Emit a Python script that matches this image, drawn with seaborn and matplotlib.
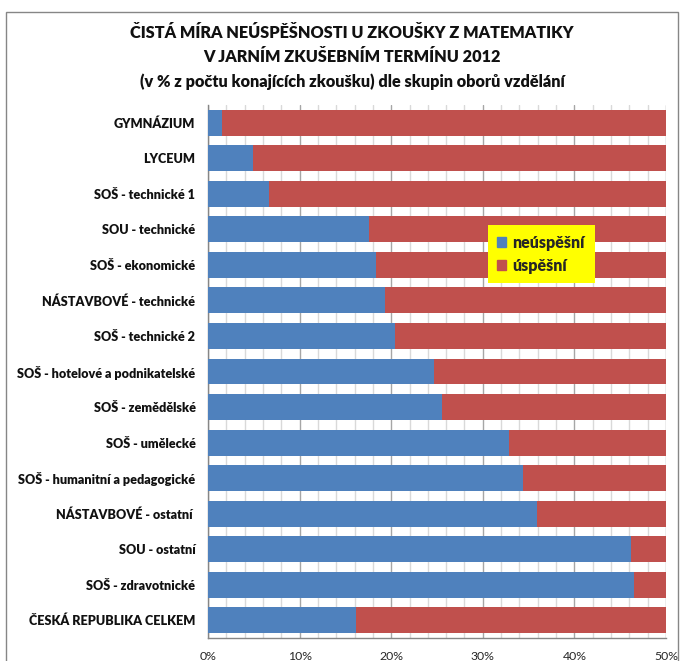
import pandas as pd
import seaborn as sns
import matplotlib.pyplot as plt
from matplotlib.patches import Patch, Rectangle
from matplotlib.ticker import MultipleLocator, FuncFormatter

obory = [
    "GYMNÁZIUM",
    "LYCEUM",
    "SOŠ - technické 1",
    "SOU - technické",
    "SOŠ - ekonomické",
    "NÁSTAVBOVÉ - technické",
    "SOŠ - technické 2",
    "SOŠ - hotelové a podnikatelské",
    "SOŠ - zemědělské",
    "SOŠ - umělecké",
    "SOŠ - humanitní a pedagogické",
    "NÁSTAVBOVÉ - ostatní ",
    "SOU - ostatní",
    "SOŠ - zdravotnické",
    "ČESKÁ REPUBLIKA CELKEM",
]
neuspesni = [1.5, 4.9, 6.7, 17.6, 18.3, 19.3, 20.4, 24.7, 25.5, 32.9, 34.4, 35.9, 46.2, 46.5, 16.2]
uspesni = [100 - v for v in neuspesni]

df = pd.DataFrame({"obor": obory, "neuspesni": neuspesni, "uspesni": uspesni})
df["celkem"] = df["neuspesni"] + df["uspesni"]

BLUE = "#4F81BD"
RED = "#C0504D"

sns.set_style("white")
plt.rcParams["font.family"] = ["Lato", "DejaVu Sans"]

fig = plt.figure(figsize=(6.81, 6.61), dpi=100)
ax = fig.add_axes([208 / 681, 1 - 638 / 661, 458 / 681, 533 / 661])

# stacked bars: full bar in red, failing share in blue on top
sns.barplot(data=df, y="obor", x="celkem", color=RED, orient="h", width=0.73,
            saturation=1, ax=ax, zorder=2)
sns.barplot(data=df, y="obor", x="neuspesni", color=BLUE, orient="h", width=0.73,
            saturation=1, ax=ax, zorder=3)
for p in ax.patches:
    p.set_linewidth(0)

ax.set_xlim(0, 50)
ax.set_ylim(len(obory) - 0.5, -0.5)
ax.set_xlabel("")
ax.set_ylabel("")

ax.xaxis.set_major_locator(MultipleLocator(10))
ax.xaxis.set_minor_locator(MultipleLocator(2))
ax.xaxis.set_major_formatter(FuncFormatter(lambda v, _: f"{v:.0f}%"))
ax.grid(axis="x", which="major", color="#A6A6A6", lw=1, zorder=0)
ax.grid(axis="x", which="minor", color="#D9D9D9", lw=1, zorder=0)
ax.set_axisbelow(True)

ax.set_yticks(range(len(obory)))
ax.set_yticklabels(obory, fontsize=9.1, fontweight="heavy", color="#111111")
ax.set_yticks([i - 0.5 for i in range(len(obory) + 1)], minor=True)
ax.tick_params(axis="y", which="major", length=0, pad=9)
ax.tick_params(axis="y", which="minor", length=5, color="#868686", direction="out")
ax.tick_params(axis="x", which="major", length=5, color="#868686", labelsize=8.8, pad=4)
ax.tick_params(axis="x", which="minor", length=0)

for s in ["top", "right"]:
    ax.spines[s].set_visible(False)
for s in ["left", "bottom"]:
    ax.spines[s].set_color("#868686")
    ax.spines[s].set_linewidth(1)

handles = [Patch(color=BLUE, label="neúspěšní"), Patch(color=RED, label="úspěšní")]
leg = ax.legend(handles=handles, loc="upper left", bbox_to_anchor=(0.611, 0.775),
                borderaxespad=0, frameon=True, facecolor="#FFFF00", edgecolor="none",
                fancybox=False, framealpha=1, handlelength=0.55, handleheight=0.55,
                handletextpad=0.4, borderpad=0.6, labelspacing=0.45,
                prop={"weight": "heavy", "size": 11.5})

titulky = [
    "ČISTÁ MÍRA NEÚSPĚŠNOSTI U ZKOUŠKY Z MATEMATIKY",
    "V JARNÍM ZKUŠEBNÍM TERMÍNU 2012",
    "(v % z počtu konajících zkoušku) dle skupin oborů vzdělání",
]
for i, t in enumerate(titulky):
    fig.text(352 / 681, 1 - (33 + 24.5 * i) / 661, t, ha="center", va="center",
             fontsize=11.7, fontweight="heavy", color="#111111")

fig.patches.append(Rectangle((6 / 681, -0.05), 672 / 681, 1.05 - 12 / 661,
                             transform=fig.transFigure, fill=False,
                             edgecolor="#868686", lw=1))

plt.savefig("out.png", dpi=100)
